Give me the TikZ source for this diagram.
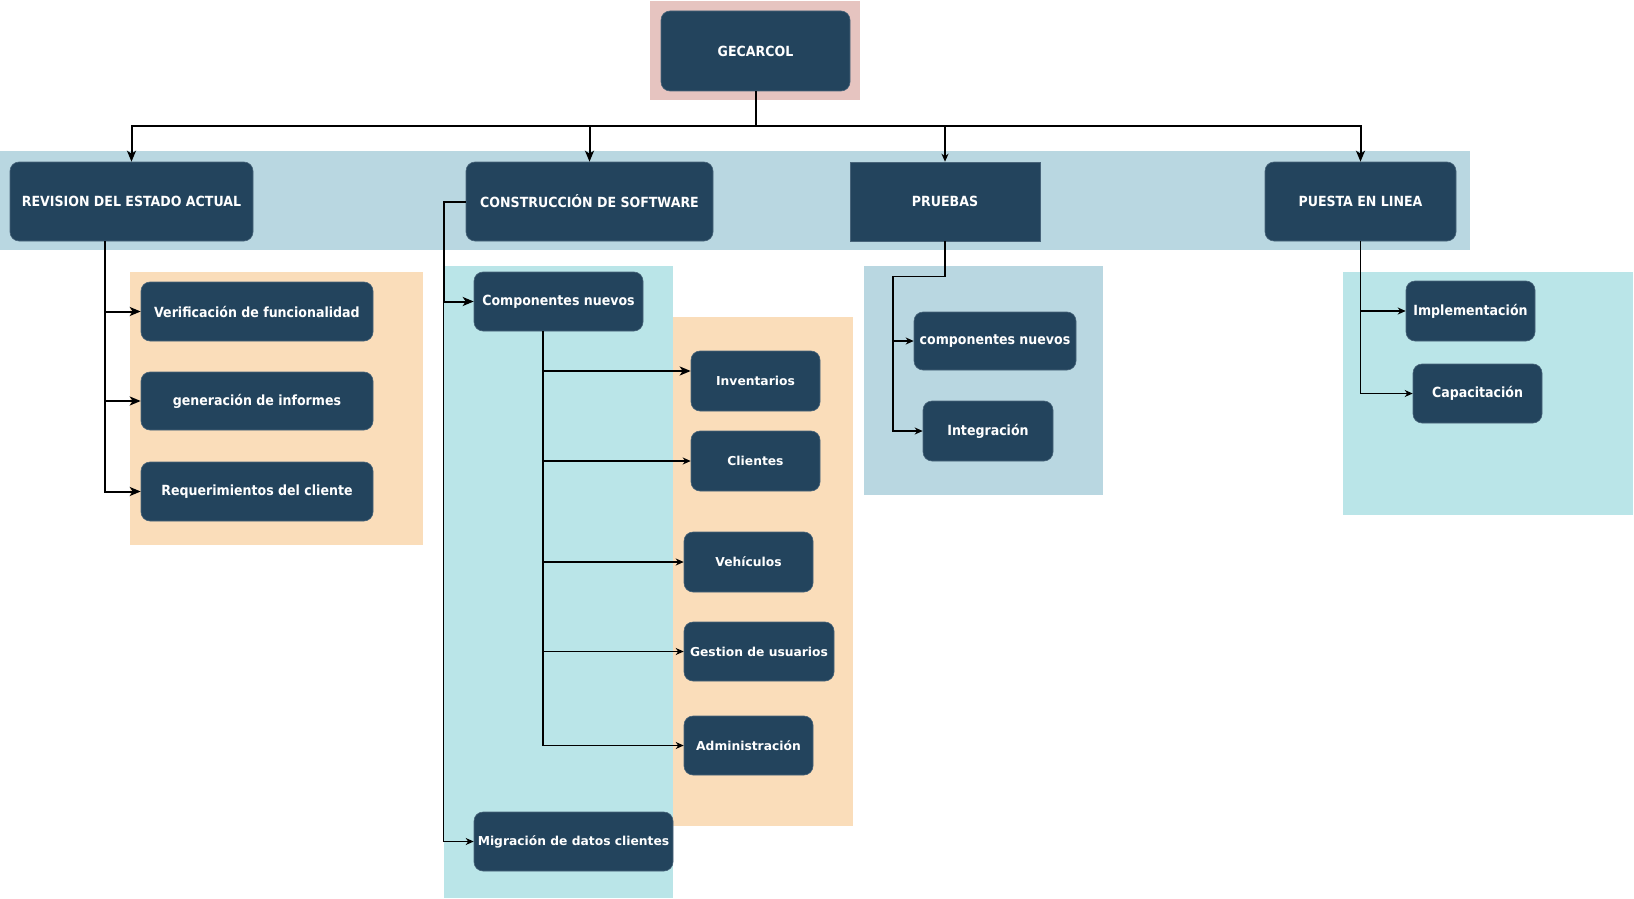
\documentclass[tikz,border=0pt]{standalone}
\usepackage{fontspec}
\setmainfont{DejaVu Sans}
\newfontfamily\narrowfont{DejaVu Sans Condensed}
\usepackage{xcolor}
\definecolor{gcnavy}{RGB}{35,68,93}
\definecolor{gcedge}{RGB}{72,100,122}
\definecolor{gcband}{RGB}{185,215,225}
\definecolor{gcteal}{RGB}{186,229,232}
\definecolor{gcpeach}{RGB}{250,221,186}
\definecolor{gcrose}{RGB}{230,196,192}
\usetikzlibrary{arrows.meta,calc}

\begin{document}
\begin{tikzpicture}[x=1pt,y=-1pt,
  box/.style={draw=gcedge,line width=0.6pt,fill=gcnavy,text=white,rounded corners=9pt,
    align=center,inner sep=0pt},
  head/.style={box,font=\narrowfont\bfseries\fontsize{14}{16}\selectfont},
  wide/.style={box,font=\bfseries\fontsize{12.3}{14}\selectfont},
  link/.style={draw,line width=2pt,-{Stealth[length=11pt,width=9pt,inset=3pt]}},
  thin/.style={draw,line width=1.2pt,-{Stealth[length=8pt,width=7pt,inset=2.5pt]}}
]
  \useasboundingbox (0,0) rectangle (1634,899);
  \fill[white] (0,0) rectangle (1634,899);

  % backdrops
  \fill[gcrose] (650,1) rectangle (860,100);
  \fill[gcband] (0,151) rectangle (1470,250);
  \fill[gcpeach] (130,272) rectangle (423,545);
  \fill[gcteal] (444,266) rectangle (673,898);
  \fill[gcpeach] (673,317) rectangle (853,826);
  \fill[gcband] (864,266) rectangle (1103,495);
  \fill[gcteal] (1343,272) rectangle (1633,515);

  % top level
  \node[head,minimum width=189pt,minimum height=80pt] (gec) at (755.5,51) {GECARCOL};
  \node[head,minimum width=243pt,minimum height=79pt] (rev) at (131.5,201.5) {REVISION DEL ESTADO ACTUAL};
  \node[head,minimum width=247pt,minimum height=79pt] (con) at (589.5,201.5) {CONSTRUCCIÓN DE SOFTWARE};
  \node[head,rounded corners=0pt,minimum width=190pt,minimum height=79pt] (pru) at (945,201.5) {PRUEBAS};
  \node[head,minimum width=191pt,minimum height=79pt] (pue) at (1360.5,201.5) {PUESTA EN LINEA};

  % revision
  \node[head,minimum width=232pt,minimum height=59pt] (ver) at (257,311.5) {Verificación de funcionalidad};
  \node[head,minimum width=232pt,minimum height=58pt] (gen) at (257,401) {generación de informes};
  \node[head,minimum width=232pt,minimum height=59pt] (req) at (257,491.5) {Requerimientos del cliente};

  % construccion
  \node[head,minimum width=169pt,minimum height=59pt] (comp) at (558.5,301.5) {Componentes nuevos};
  \node[wide,minimum width=129pt,minimum height=60pt] (inv) at (755.5,381) {Inventarios};
  \node[wide,minimum width=129pt,minimum height=60pt] (cli) at (755.5,461) {Clientes};
  \node[wide,minimum width=129pt,minimum height=60pt] (veh) at (748.5,562) {Vehículos};
  \node[wide,minimum width=150pt,minimum height=59pt] (ges) at (759,651.5) {Gestion de usuarios};
  \node[wide,minimum width=129pt,minimum height=59pt] (adm) at (748.5,745.5) {Administración};
  \node[wide,minimum width=199pt,minimum height=59pt] (mig) at (573.5,841.5) {Migración de datos clientes};

  % pruebas
  \node[head,minimum width=162pt,minimum height=58pt] (cmp) at (995,341) {componentes nuevos};
  \node[head,minimum width=130pt,minimum height=60pt] (itg) at (988,431) {Integración};

  % puesta en linea
  \node[head,minimum width=129pt,minimum height=60pt] (imp) at (1470.5,311) {Implementación};
  \node[head,minimum width=129pt,minimum height=59pt] (cap) at (1477.5,393.5) {Capacitación};

  % connectors
  \draw[link] (gec.south) -- ++(0,35) -| (rev.north);
  \draw[link] (gec.south) -- ++(0,35) -| (con.north);
  \draw[thin] (gec.south) -- ++(0,35) -| (pru.north);
  \draw[link] (gec.south) -- ++(0,35) -| (pue.north);

  \coordinate (revdrop) at ([xshift=-26.5pt]rev.south);
  \draw[link] (revdrop) |- (ver.west);
  \draw[link] (revdrop) |- (gen.west);
  \draw[link] (revdrop) |- (req.west);

  \draw[link] (con.west) -- ++(-22,0) |- (comp.west);
  \draw[thin] (con.west) -- ++(-22,0) |- (mig.west);

  \coordinate (compdrop) at ([xshift=-15.5pt]comp.south);
  \draw[link] (compdrop) |- ([yshift=10pt]inv.west);
  \draw[thin] (compdrop) |- (cli.west);
  \draw[thin] (compdrop) |- (veh.west);
  \draw[thin] (compdrop) |- (ges.west);
  \draw[thin] (compdrop) |- (adm.west);

  \draw[thin] (pru.south) -- ++(0,35) -| ++(-52,0) |- (cmp.west);
  \draw[thin] (pru.south) -- ++(0,35) -| ++(-52,0) |- (itg.west);

  \draw[thin] (pue.south) |- (imp.west);
  \draw[thin] (pue.south) |- (cap.west);
\end{tikzpicture}
\end{document}
